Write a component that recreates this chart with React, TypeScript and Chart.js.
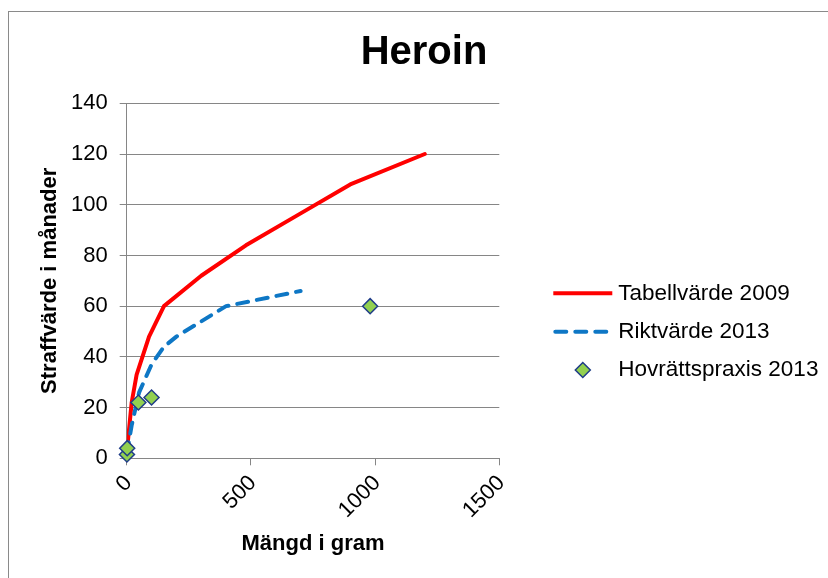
import React, { useEffect, useRef } from "react";
import { Chart, registerables } from "chart.js";

Chart.register(...registerables);

const TITLE = "Heroin";
const X_TITLE = "Mängd i gram";
const Y_TITLE = "Straffvärde i månader";

const X_MIN = 0;
const X_MAX = 1500;
const X_STEP = 500;
const Y_MIN = 0;
const Y_MAX = 140;
const Y_STEP = 20;

const SERIES_NAMES = ["Tabellvärde 2009", "Riktvärde 2013", "Hovrättspraxis 2013"];

const tabellX = [1, 20, 40, 90, 150, 300, 480, 690, 900, 1200];
const tabellY = [3, 22, 33, 48, 60, 72, 84, 96, 108, 120];

const riktX = [1, 20, 50, 100, 150, 200, 400, 700];
const riktY = [2, 13, 26, 37, 44, 48, 60, 66];

const praxisX = [1, 2, 47, 100, 980];
const praxisY = [1.5, 4, 22, 24, 60];

const FONT = "'Liberation Sans', Arial, sans-serif";
const GRID = "#868686";

const toPoints = (xs: number[], ys: number[]) => xs.map((x, i) => ({ x, y: ys[i] }));

const legendPlugin = {
  id: "customLegend",
  afterDraw(chart: any) {
    const ctx = chart.ctx;
    const area = chart.chartArea;
    const x0 = area.right + 54;
    const x1 = area.right + 113;
    const tx = area.right + 119;
    const y0 = 281.3;
    const step = 38.35;
    ctx.save();
    chart.data.datasets.forEach((d: any, i: number) => {
      const y = y0 + i * step;
      if (d.showLine) {
        ctx.beginPath();
        ctx.strokeStyle = d.borderColor;
        ctx.lineWidth = d.borderWidth;
        if (d.borderDash && d.borderDash.length) {
          ctx.setLineDash(d.borderDash);
          ctx.lineCap = "round";
          ctx.moveTo(x0 + 2, y);
          ctx.lineTo(x1 - 2, y);
        } else {
          ctx.setLineDash([]);
          ctx.lineCap = "butt";
          ctx.moveTo(x0, y);
          ctx.lineTo(x1, y);
        }
        ctx.stroke();
      } else {
        const cx = (x0 + x1) / 2;
        const r = d.pointRadius;
        ctx.setLineDash([]);
        ctx.beginPath();
        ctx.moveTo(cx - r, y);
        ctx.lineTo(cx, y - r);
        ctx.lineTo(cx + r, y);
        ctx.lineTo(cx, y + r);
        ctx.closePath();
        ctx.fillStyle = d.pointBackgroundColor;
        ctx.fill();
        ctx.lineWidth = d.pointBorderWidth;
        ctx.strokeStyle = d.pointBorderColor;
        ctx.stroke();
      }
      ctx.fillStyle = "#000";
      ctx.font = `22.5px ${FONT}`;
      ctx.textAlign = "left";
      ctx.textBaseline = "middle";
      ctx.fillText(d.label, tx, y);
    });
    ctx.restore();
  },
};

function App() {
  const ref = useRef<HTMLCanvasElement | null>(null);

  useEffect(() => {
    if (!ref.current) return;
    const chart = new Chart(ref.current, {
      type: "scatter",
      data: {
        datasets: [
          {
            label: SERIES_NAMES[0],
            data: toPoints(tabellX, tabellY),
            showLine: true,
            borderColor: "#FF0000",
            backgroundColor: "#FF0000",
            borderWidth: 4,
            borderJoinStyle: "round",
            borderCapStyle: "round",
            pointRadius: 0,
            tension: 0,
            order: 2,
          },
          {
            label: SERIES_NAMES[1],
            data: toPoints(riktX, riktY),
            showLine: true,
            borderColor: "#0E77C5",
            backgroundColor: "#0E77C5",
            borderWidth: 4,
            borderDash: [11, 9],
            borderJoinStyle: "round",
            borderCapStyle: "round",
            pointRadius: 0,
            tension: 0,
            order: 1,
          },
          {
            label: SERIES_NAMES[2],
            data: toPoints(praxisX, praxisY),
            showLine: false,
            pointStyle: "rectRot",
            pointRadius: 7.5,
            pointBackgroundColor: "#92D050",
            pointBorderColor: "#1F3C88",
            pointBorderWidth: 1.5,
            backgroundColor: "#92D050",
            borderColor: "#1F3C88",
            clip: false,
            order: 0,
          } as any,
        ],
      },
      options: {
        animation: false,
        responsive: false,
        devicePixelRatio: 1,
        layout: { padding: 0 },
        plugins: {
          legend: { display: false },
          tooltip: { enabled: false },
          title: {
            display: true,
            text: TITLE,
            color: "#000",
            font: { family: FONT, size: 40, weight: "bold" },
            padding: { top: 17, bottom: 26.3 },
          },
        },
        scales: {
          x: {
            type: "linear",
            position: "bottom",
            min: X_MIN,
            max: X_MAX,
            afterFit(s: any) {
              s.height = 120.7;
            },
            border: { display: true, color: GRID, width: 1 },
            grid: {
              drawOnChartArea: false,
              drawTicks: true,
              tickLength: 7,
              color: GRID,
            },
            ticks: {
              stepSize: X_STEP,
              minRotation: 45,
              maxRotation: 45,
              autoSkip: false,
              padding: 5,
              labelOffset: 2,
              color: "#000",
              font: { family: FONT, size: 22 },
              callback: (v: any) => String(v),
            },
            title: {
              display: true,
              text: X_TITLE,
              color: "#000",
              font: { family: FONT, size: 22, weight: "bold" },
              padding: { top: 0, bottom: 21.8 },
            },
          },
          y: {
            type: "linear",
            position: "left",
            min: Y_MIN,
            max: Y_MAX,
            afterFit(s: any) {
              s.width = 117.7;
            },
            border: { display: true, color: GRID, width: 1 },
            grid: {
              drawOnChartArea: true,
              drawTicks: true,
              tickLength: 7,
              color: GRID,
            },
            ticks: {
              stepSize: Y_STEP,
              padding: 12,
              color: "#000",
              font: { family: FONT, size: 22 },
              callback: (v: any) => String(v),
            },
            title: {
              display: true,
              text: Y_TITLE,
              color: "#000",
              font: { family: FONT, size: 22, weight: "bold" },
              padding: { top: 27.8, bottom: 0 },
            },
          },
          legendSpace: {
            type: "linear",
            position: "right",
            display: true,
            afterFit(s: any) {
              s.width = 339.7;
            },
            border: { display: false },
            grid: { display: false },
            ticks: { display: false },
          },
        },
      } as any,
      plugins: [legendPlugin],
    });
    return () => chart.destroy();
  }, []);

  return (
    <div
      style={{
        position: "fixed",
        left: 8,
        top: 11,
        width: 820,
        height: 567,
        overflow: "hidden",
        borderLeft: "1px solid #8a8a8a",
        borderTop: "1px solid #8a8a8a",
        background: "#fff",
      }}
    >
      <canvas ref={ref} width={830} height={567} style={{ display: "block", width: 830, height: 567 }} />
    </div>
  );
}

export default App;
